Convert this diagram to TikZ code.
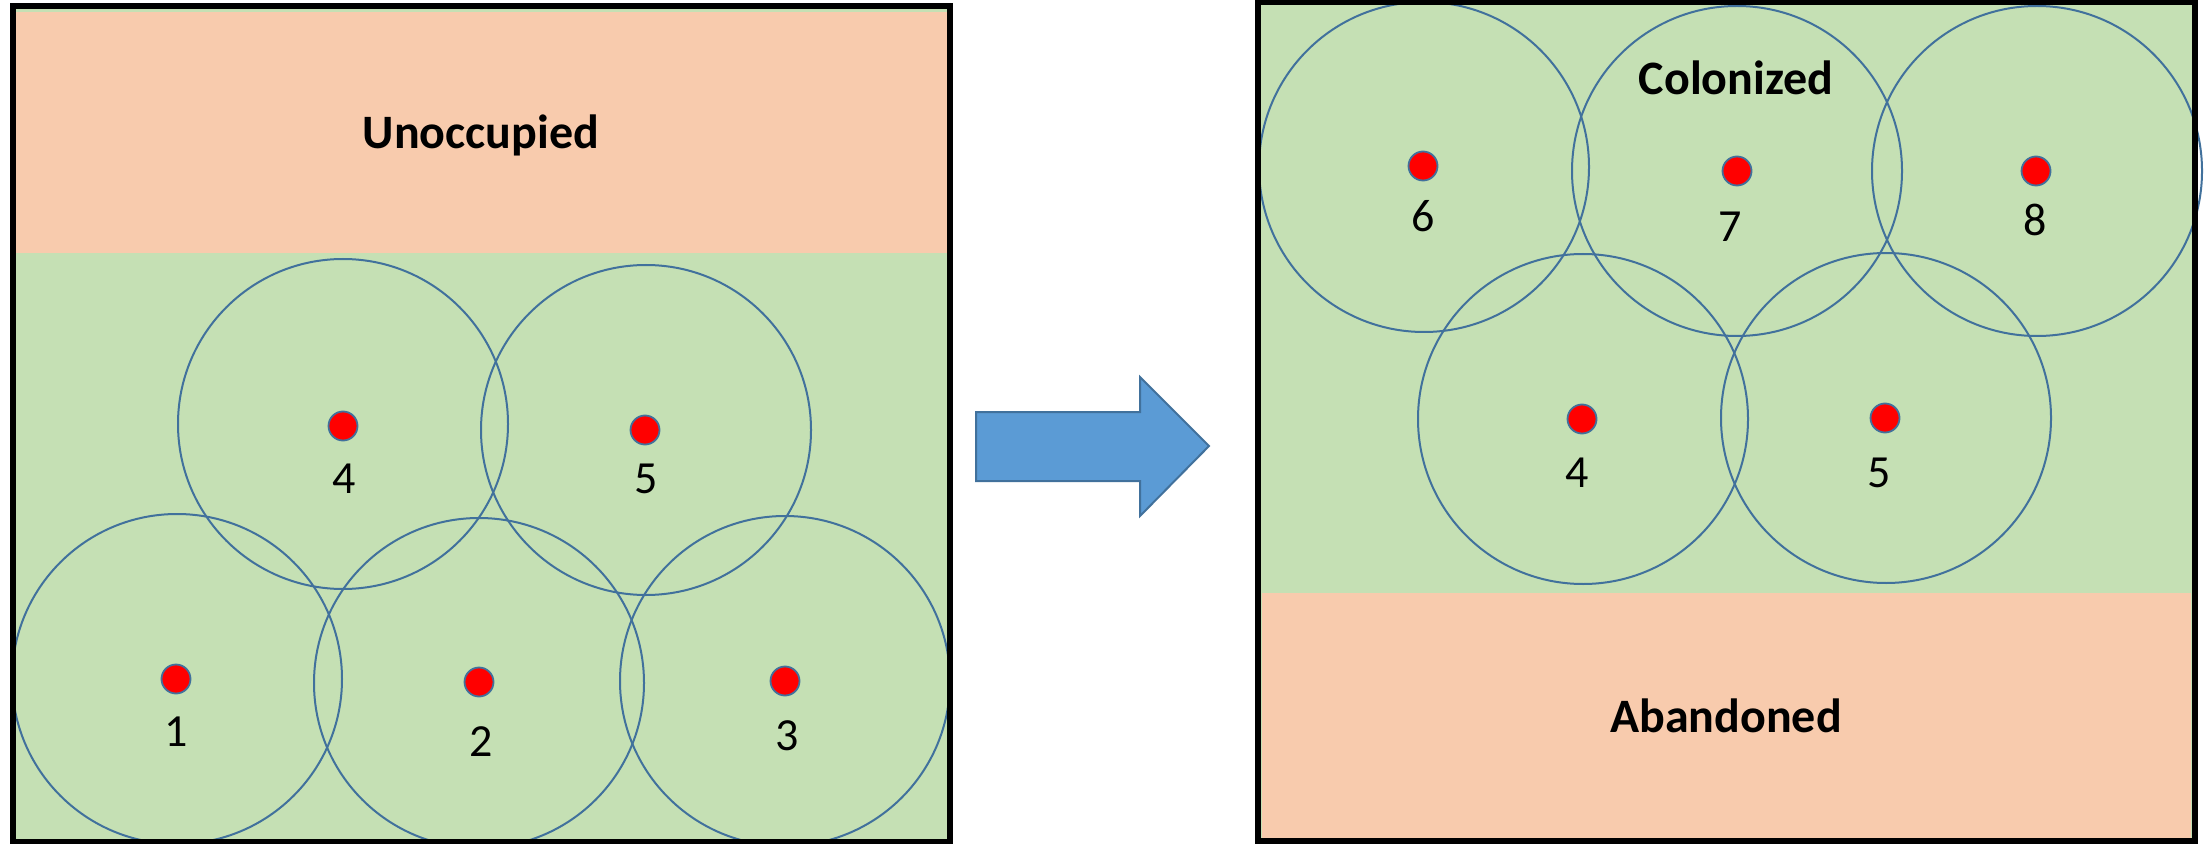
\documentclass[tikz,border=0pt]{standalone}
\usepackage{fontspec}
\setmainfont{Carlito}
\begin{document}
\begin{tikzpicture}[x=0.5pt,y=-0.5pt]
\definecolor{zgreen}{HTML}{C5E0B4}
\definecolor{zpink}{HTML}{F8CBAD}
\definecolor{zblue}{HTML}{41719C}
\definecolor{zarrow}{HTML}{5B9BD5}
\tikzset{
 rangec/.style={circle, draw=zblue, line width=1pt, minimum size=165pt, inner sep=0pt},
 dotc/.style={circle, fill=red, draw=zblue, line width=0.9pt, minimum size=14.5pt, inner sep=0pt},
 numl/.style={font=\fontsize{23}{27}\selectfont, anchor=base, inner sep=0pt},
 zonel/.style={font=\fontsize{24}{28}\selectfont\bfseries, anchor=base, inner sep=0pt},
 panel/.style={draw=black, line width=3pt},
}
\useasboundingbox (0,0) rectangle (2204,844);
\fill[white] (0,0) rectangle (2204,844);
% left panel
\fill[zgreen] (13,6) rectangle (950,842);
\fill[zpink] (16,12) rectangle (947,253);
% right panel
\fill[zgreen] (1258,2) rectangle (2195,841);
\fill[zpink] (1262,593) rectangle (2191,838);
% range circles left
\node[rangec] (r1) at (177,679) {};
\node[rangec] (r2) at (479,683) {};
\node[rangec] (r3) at (785,681) {};
\node[rangec] (r4) at (343,424) {};
\node[rangec] (r5) at (646,430) {};
% range circles right
\node[rangec] (q6) at (1424,167) {};
\node[rangec] (q7) at (1737,171) {};
\node[rangec] (q8) at (2037,171) {};
\node[rangec] (q4) at (1583,419) {};
\node[rangec] (q5) at (1886,418) {};
% dots left
\node[dotc] (d1) at (176,679) {};
\node[dotc] (d2) at (479,682) {};
\node[dotc] (d3) at (785,681) {};
\node[dotc] (d4) at (343,426) {};
\node[dotc] (d5) at (645,430) {};
% dots right
\node[dotc] (e6) at (1423,166) {};
\node[dotc] (e7) at (1737,171) {};
\node[dotc] (e8) at (2036,171) {};
\node[dotc] (e4) at (1582,419) {};
\node[dotc] (e5) at (1885,418) {};
% number labels
\node[numl] (n1) at (176,746) {1};
\node[numl] (n2) at (481,756) {2};
\node[numl] (n3) at (787,750) {3};
\node[numl] (n4) at (344,493) {4};
\node[numl] (n5) at (646,493) {5};
\node[numl] (m6) at (1423,232) {6};
\node[numl] (m7) at (1730,242) {7};
\node[numl] (m8) at (2035,236) {8};
\node[numl] (m4) at (1577,487) {4};
\node[numl] (m5) at (1879,487) {5};
% zone labels
\node[zonel] (unocc) at (481,149) {Unoccupied};
\node[zonel] (colon) at (1736,95) {Colonized};
\node[zonel] (aband) at (1726,732) {Abandoned};
% arrow
\filldraw[fill=zarrow, draw=zblue, line width=1pt, line join=miter]
 (976,412) -- (1140,412) -- (1140,377) -- (1209,446) -- (1140,516) -- (1140,481) -- (976,481) -- cycle;
% panel borders
\draw[panel] (13,6) rectangle (950,842);
\draw[panel] (1258,2) rectangle (2195,841);
\end{tikzpicture}
\end{document}
